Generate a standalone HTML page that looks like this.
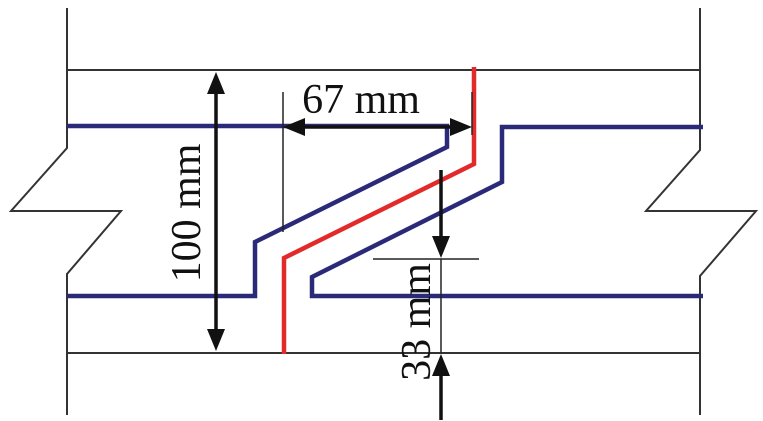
<!DOCTYPE html>
<html><head><style>body{margin:0;background:#fff}svg{display:block}</style></head><body>
<svg width="763" height="421" viewBox="0 0 763 421" xmlns="http://www.w3.org/2000/svg">
<g fill="none" stroke="#333" stroke-width="2">
<polyline points="67,8 67,148 11,211 121,211 67,274 67,415"/>
<polyline points="700,8 700,150 646,211 756,211 700,276 700,415"/>
<line x1="67" y1="70" x2="700" y2="70"/>
<line x1="67" y1="353" x2="700" y2="353"/>
</g>
<g fill="none" stroke="#2a2a78" stroke-width="4.5">
<polyline points="67,126 447,126 447,147 255,242 255,296 67,296"/>
<polyline points="703,127 502,127 502,182 312,277 312,296 703,296"/>
</g>
<polyline fill="none" stroke="#e32a2a" stroke-width="4.5" points="474,67 474,164 284,258 284,354"/>
<g stroke="#222" stroke-width="1.5">
<line x1="283" y1="92" x2="283" y2="232"/>
<line x1="472" y1="92" x2="472" y2="135"/>
<line x1="373" y1="259" x2="479" y2="259"/>
<line x1="441" y1="259" x2="441" y2="353"/>
</g>
<g stroke="#111" stroke-width="3.5">
<line x1="216" y1="90" x2="216" y2="333"/>
<line x1="300" y1="127" x2="455" y2="127"/>
<line x1="441" y1="170" x2="441" y2="240"/>
<line x1="441" y1="372" x2="441" y2="420"/>
</g>
<g fill="#111">
<polygon points="216,72 207,94 225,94"/>
<polygon points="216,351 207,329 225,329"/>
<polygon points="283,127 305,118 305,136"/>
<polygon points="472,127 450,118 450,136"/>
<polygon points="441,258 432,236 450,236"/>
<polygon points="441,354 432,376 450,376"/>
</g>
<g style="font-family:'Liberation Serif', serif" font-size="42" fill="#111">
<text x="361" y="113" text-anchor="middle">67 mm</text>
<text transform="translate(200,213) rotate(-90)" text-anchor="middle">100 mm</text>
<text transform="translate(430,322) rotate(-90)" text-anchor="middle">33 mm</text>
</g>
</svg>
</body></html>
